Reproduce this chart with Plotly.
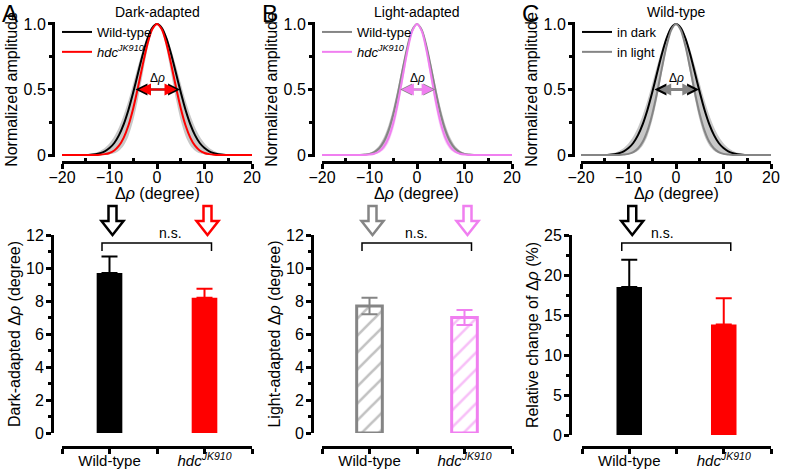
import plotly.graph_objects as go

W, H = 788, 472
def px(v): return v / W
def py(v): return 1 - v / H

# ---------------- data ----------------
angle = [-20, -15, -14, -13, -12, -11, -10, -9, -8, -7, -6, -5, -4, -3, -2, -1, 0,
         1, 2, 3, 4, 5, 6, 7, 8, 9, 10, 11, 12, 13, 14, 15, 20]

wt_dark = [0, 0.001, 0.003, 0.007, 0.014, 0.028, 0.053, 0.092, 0.152, 0.236, 0.346, 0.479, 0.624, 0.767, 0.889, 0.971, 1.0,
           0.971, 0.889, 0.767, 0.624, 0.479, 0.346, 0.236, 0.152, 0.092, 0.053, 0.028, 0.014, 0.007, 0.003, 0.001, 0]
hdc_dark = [0, 0, 0, 0.001, 0.003, 0.007, 0.016, 0.035, 0.071, 0.133, 0.227, 0.357, 0.517, 0.690, 0.848, 0.960, 1.0,
            0.960, 0.848, 0.690, 0.517, 0.357, 0.227, 0.133, 0.071, 0.035, 0.016, 0.007, 0.003, 0.001, 0, 0, 0]
wt_light = [0, 0, 0, 0, 0.001, 0.004, 0.009, 0.023, 0.050, 0.101, 0.186, 0.311, 0.473, 0.657, 0.829, 0.954, 1.0,
            0.954, 0.829, 0.657, 0.473, 0.311, 0.186, 0.101, 0.050, 0.023, 0.009, 0.004, 0.001, 0, 0, 0, 0]
hdc_light = [0, 0, 0, 0, 0, 0.001, 0.004, 0.010, 0.027, 0.063, 0.130, 0.243, 0.404, 0.601, 0.797, 0.945, 1.0,
             0.945, 0.797, 0.601, 0.404, 0.243, 0.130, 0.063, 0.027, 0.010, 0.004, 0.001, 0, 0, 0, 0, 0]

# SEM envelopes
dark_band_hi = [0, 0.004, 0.009, 0.017, 0.031, 0.053, 0.089, 0.141, 0.212, 0.305, 0.418, 0.546, 0.679, 0.804, 0.908, 0.976, 1.0,
                0.976, 0.908, 0.804, 0.679, 0.546, 0.418, 0.305, 0.212, 0.141, 0.089, 0.053, 0.031, 0.017, 0.009, 0.004, 0]
dark_band_lo = [0, 0, 0, 0, 0, 0.002, 0.005, 0.013, 0.033, 0.073, 0.146, 0.263, 0.425, 0.618, 0.807, 0.948, 1.0,
                0.948, 0.807, 0.618, 0.425, 0.263, 0.146, 0.073, 0.033, 0.013, 0.005, 0.002, 0, 0, 0, 0, 0]
wt_light_band_hi = [0, 0, 0, 0.001, 0.003, 0.007, 0.016, 0.035, 0.071, 0.133, 0.227, 0.357, 0.517, 0.690, 0.848, 0.960, 1.0,
                    0.960, 0.848, 0.690, 0.517, 0.357, 0.227, 0.133, 0.071, 0.035, 0.016, 0.007, 0.003, 0.001, 0, 0, 0]
wt_light_band_lo = [0, 0, 0, 0, 0, 0.002, 0.005, 0.013, 0.033, 0.073, 0.146, 0.263, 0.425, 0.618, 0.807, 0.948, 1.0,
                    0.948, 0.807, 0.618, 0.425, 0.263, 0.146, 0.073, 0.033, 0.013, 0.005, 0.002, 0, 0, 0, 0, 0]
hdc_light_band_hi = [0, 0, 0, 0, 0.001, 0.002, 0.007, 0.018, 0.041, 0.087, 0.166, 0.287, 0.450, 0.638, 0.819, 0.951, 1.0,
                     0.951, 0.819, 0.638, 0.450, 0.287, 0.166, 0.087, 0.041, 0.018, 0.007, 0.002, 0.001, 0, 0, 0, 0]
hdc_light_band_lo = [0, 0, 0, 0, 0, 0, 0.001, 0.005, 0.015, 0.040, 0.094, 0.194, 0.350, 0.554, 0.769, 0.936, 1.0,
                     0.936, 0.769, 0.554, 0.350, 0.194, 0.094, 0.040, 0.015, 0.005, 0.001, 0, 0, 0, 0, 0, 0]

genotypes = ["Wild-type", "<i>hdc</i><sup><i>JK910</i></sup>"]
dark_width = [9.7, 8.2]
dark_sem = [1.0, 0.55]
light_width = [7.7, 7.0]
light_sem = [0.5, 0.45]
rel_change = [18.5, 13.8]
rel_sem = [3.4, 3.3]

cat_pos = list(range(1, len(genotypes) + 1))  # category slots on the bar axes

# ---------------- style ----------------
FONT = "Liberation Sans, Arial, sans-serif"
BLACK = "#000000"
RED = "#ff0000"
GRAY = "#858585"
PINK = "#f07ff0"
BAND = "#c8c8c8"

fig = go.Figure()

def band(xa, ya, lo, hi, color, legend):
    fig.add_trace(go.Scatter(x=angle, y=lo, xaxis=xa, yaxis=ya, mode="lines",
                             line=dict(width=0, shape="spline", smoothing=0.8),
                             showlegend=False, hoverinfo="skip", legend=legend))
    fig.add_trace(go.Scatter(x=angle, y=hi, xaxis=xa, yaxis=ya, mode="lines",
                             line=dict(width=0, shape="spline", smoothing=0.8),
                             fill="tonexty", fillcolor=color,
                             showlegend=False, hoverinfo="skip", legend=legend))

def curve(xa, ya, y, color, name, legend):
    fig.add_trace(go.Scatter(x=angle, y=y, xaxis=xa, yaxis=ya, mode="lines", name=name,
                             line=dict(width=2, color=color, shape="spline", smoothing=0.8),
                             legend=legend, cliponaxis=False))

# Panel A top
band("x", "y", dark_band_lo, dark_band_hi, BAND, "legend")
curve("x", "y", wt_dark, BLACK, "Wild-type", "legend")
curve("x", "y", hdc_dark, RED, genotypes[1], "legend")
# Panel B top
band("x2", "y2", wt_light_band_lo, wt_light_band_hi, "rgba(150,150,150,0.55)", "legend2")
band("x2", "y2", hdc_light_band_lo, hdc_light_band_hi, "rgba(240,150,240,0.45)", "legend2")
curve("x2", "y2", wt_light, GRAY, "Wild-type", "legend2")
curve("x2", "y2", hdc_light, PINK, genotypes[1], "legend2")
# Panel C top
band("x3", "y3", dark_band_lo, dark_band_hi, BAND, "legend3")
curve("x3", "y3", wt_dark, BLACK, "in dark", "legend3")
curve("x3", "y3", wt_light, GRAY, "in light", "legend3")

# Bars
def bar(xa, ya, idx, val, err, color, sym, hatched=False):
    if hatched:
        marker = dict(color="white", line=dict(color=color, width=3),
                      pattern=dict(shape="/", fgcolor=color, bgcolor="white", size=12, solidity=0.22))
    else:
        marker = dict(color=color, line=dict(width=0))
    fig.add_trace(go.Bar(x=[cat_pos[idx]], y=[val], xaxis=xa, yaxis=ya, width=0.27, marker=marker,
                         showlegend=False, name=genotypes[idx],
                         error_y=dict(type="data", array=[err], arrayminus=[err if sym else 0],
                                      symmetric=False, color=color, thickness=2, width=8)))

bar("x4", "y4", 0, dark_width[0], dark_sem[0], BLACK, False)
bar("x4", "y4", 1, dark_width[1], dark_sem[1], RED, False)
bar("x5", "y5", 0, light_width[0], light_sem[0], GRAY, True, hatched=True)
bar("x5", "y5", 1, light_width[1], light_sem[1], PINK, True, hatched=True)
bar("x6", "y6", 0, rel_change[0], rel_sem[0], BLACK, False)
bar("x6", "y6", 1, rel_change[1], rel_sem[1], RED, False)

# ---------------- axes ----------------
LW = 3
def common():
    return dict(showline=True, linewidth=LW, linecolor=BLACK, showgrid=False, zeroline=False,
                ticks="outside", tickwidth=2.5, tickcolor=BLACK, automargin=False,
                tickfont=dict(size=16, family=FONT, color=BLACK))

tops = [(62, 252, 53), (322, 512, 313), (581, 771, 573)]
bottoms = [(62, 252, 52, 433, [0, 12], 2), (322, 512, 312, 433, [0, 12], 2), (582, 771, 570, 435, [0, 25], 5)]
ytitles = ["Dark-adapted Δ<i>ρ</i> (degree)", "Light-adapted Δ<i>ρ</i> (degree)", "Relative change of Δ<i>ρ</i> (%)"]

layout = {}
for i, (x0, x1, yx) in enumerate(tops):
    k = "" if i == 0 else str(i + 1)
    xa = common()
    xa.update(domain=[px(x0), px(x1)], range=[-20, 20], anchor="free", position=py(162),
              tickmode="array", tickvals=[-20, -10, 0, 10, 20], ticklen=5, ticklabelstandoff=-5,
              minor=dict(tickmode="array", tickvals=[-15, -5, 5, 15], ticks="inside", ticklen=3,
                         tickwidth=2.5, tickcolor=BLACK))
    ya = common()
    ya.update(domain=[py(157), py(22)], range=[-0.015, 1.015], anchor="free", position=px(yx),
              tickmode="array", tickvals=[0, 0.5, 1.0], ticktext=["0", "0.5", "1.0"], ticklen=4,
              ticklabelstandoff=-1,
              minor=dict(tickmode="array", tickvals=[0.25, 0.75], ticks="outside", ticklen=3,
                         tickwidth=2.5, tickcolor=BLACK),
              title=dict(text="Normalized amplitude", font=dict(size=16, family=FONT), standoff=0))
    layout["xaxis" + k] = xa
    layout["yaxis" + k] = ya

for i, (x0, x1, yx, y0px, yr, dt) in enumerate(bottoms):
    k = str(i + 4)
    xa = common()
    xa.update(domain=[px(x0), px(x1)], range=[0.5, len(genotypes) + 0.5], anchor="free", position=py(447),
              tickmode="array", tickvals=cat_pos, ticktext=genotypes, ticklen=5, ticklabelstandoff=-6,
              minor=dict(tickmode="array", tickvals=[0.5, 1.5, 2.5], ticks="outside", ticklen=5,
                         tickwidth=2.5, tickcolor=BLACK),
              tickfont=dict(size=15, family=FONT, color=BLACK))
    ya = common()
    ya.update(domain=[py(y0px), py(235)], range=yr, anchor="free", position=px(yx),
              dtick=dt, tick0=0, ticklen=5, ticklabelstandoff=-1,
              minor=dict(dtick=dt / 2, tick0=0, ticks="outside", ticklen=3, tickwidth=2.5, tickcolor=BLACK),
              title=dict(text=ytitles[i], font=dict(size=16, family=FONT), standoff=0))
    layout["xaxis" + k] = xa
    layout["yaxis" + k] = ya

# ---------------- annotations & shapes ----------------
ann = []
for i, (lbl, title) in enumerate(zip(["A", "B", "C"], ["Dark-adapted", "Light-adapted", "Wild-type"])):
    off = [0, 260, 520][i]
    ann.append(dict(x=px(off + 0), y=py(13), xref="paper", yref="paper", text=lbl, showarrow=False,
                    xanchor="left", yanchor="middle", font=dict(size=24, family=FONT, color=BLACK)))
    ann.append(dict(x=px(tops[i][0] + 95), y=py(12), xref="paper", yref="paper", text=title,
                    showarrow=False, xanchor="center", yanchor="middle",
                    font=dict(size=14, family=FONT, color=BLACK)))
    # x-axis title of the profile plot
    ann.append(dict(x=px(tops[i][0] + 95), y=py(193), xref="paper", yref="paper",
                    text="Δ<i>ρ</i> (degree)", showarrow=False, xanchor="center", yanchor="middle",
                    font=dict(size=16, family=FONT, color=BLACK)))

def fwhm_arrow(xr, yr, half, color):
    return dict(x=half, y=0.5, ax=-half, ay=0.5, xref=xr, yref=yr, axref=xr, ayref=yr, text="",
                showarrow=True, arrowhead=2, arrowside="end+start", arrowsize=1.2, arrowwidth=2,
                arrowcolor=color, standoff=0, startstandoff=0)

ann += [fwhm_arrow("x", "y", dark_width[0] / 2, BLACK), fwhm_arrow("x", "y", dark_width[1] / 2, RED),
        fwhm_arrow("x2", "y2", light_width[0] / 2, GRAY), fwhm_arrow("x2", "y2", light_width[1] / 2, PINK),
        fwhm_arrow("x3", "y3", dark_width[0] / 2, BLACK), fwhm_arrow("x3", "y3", light_width[0] / 2, GRAY)]
for k in ["", "2", "3"]:
    ann.append(dict(x=0, y=0.5, xref="x" + k, yref="y" + k, text="Δ<i>ρ</i>", showarrow=False,
                    yanchor="bottom", yshift=3, font=dict(size=12, family=FONT, color=BLACK)))

shapes = []
def down_arrow(cx, color):
    top, neck, tip, sh, hd = 206, 221, 235, 4, 11
    pts = [(cx - sh, top), (cx + sh, top), (cx + sh, neck), (cx + hd, neck), (cx, tip),
           (cx - hd, neck), (cx - sh, neck)]
    path = "M " + " L ".join(f"{px(a):.5f},{py(b):.5f}" for a, b in pts) + " Z"
    shapes.append(dict(type="path", path=path, xref="paper", yref="paper",
                       line=dict(color=color, width=2.5), fillcolor="rgba(0,0,0,0)"))

for i, (x0, x1, *_r) in enumerate(bottoms):
    c1 = x0 + (x1 - x0) * 0.25
    c2 = x0 + (x1 - x0) * 0.75
    cols = [(BLACK, RED), (GRAY, PINK), (BLACK, None)][i]
    down_arrow(c1 + 3, cols[0])
    if cols[1]:
        down_arrow(c2 + 3, cols[1])
    b1, b2 = c1 - 7.5, c2 + 7
    path = f"M {px(b1)},{py(251)} L {px(b1)},{py(243)} L {px(b2)},{py(243)} L {px(b2)},{py(251)}"
    shapes.append(dict(type="path", path=path, xref="paper", yref="paper", line=dict(color=BLACK, width=1.5)))
    ann.append(dict(x=px((b1 + b2) / 2), y=py(233), xref="paper", yref="paper", text="n.s.",
                    showarrow=False, font=dict(size=14, family=FONT, color=BLACK)))

legend_style = dict(bgcolor="rgba(0,0,0,0)", font=dict(size=13, family=FONT, color=BLACK),
                    xanchor="left", yanchor="top", tracegroupgap=0, itemwidth=30, traceorder="normal")

fig.update_layout(
    width=W, height=H, margin=dict(l=0, r=0, t=0, b=0, autoexpand=False),
    paper_bgcolor="white", plot_bgcolor="white",
    font=dict(family=FONT, color=BLACK),
    barmode="overlay",
    annotations=ann, shapes=shapes,
    legend=dict(x=px(57), y=py(17), **legend_style),
    legend2=dict(x=px(317), y=py(17), **legend_style),
    legend3=dict(x=px(577), y=py(17), **legend_style),
    **layout,
)

fig.write_html("out.html", config={"displayModeBar": False},
               post_script="document.body.style.margin='0px';")
